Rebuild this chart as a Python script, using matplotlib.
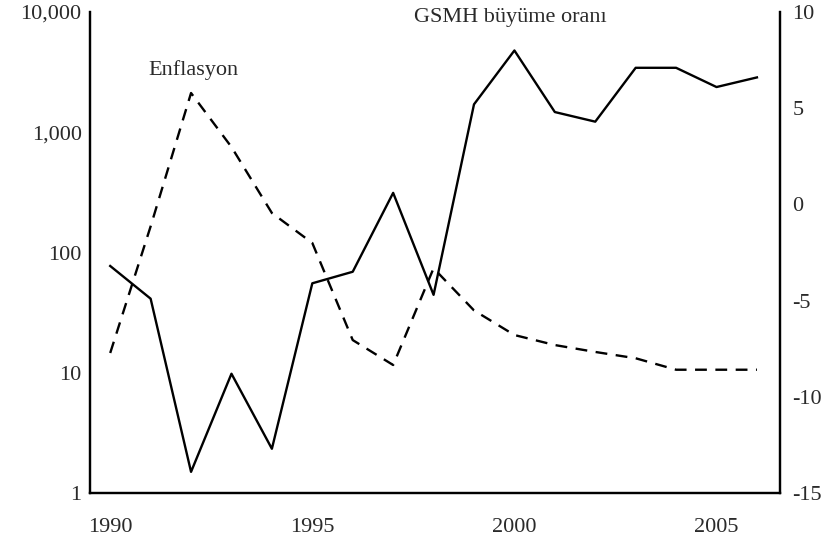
import matplotlib
matplotlib.use("Agg")
from matplotlib import pyplot as plt
from matplotlib.ticker import FuncFormatter, NullLocator

plt.rcParams['font.family'] = ['Liberation Serif', 'DejaVu Serif']
plt.rcParams['axes.unicode_minus'] = False

years = list(range(1990, 2007))
# inflation (%), log scale on the left axis
inflation = [14.6, 165, 2120, 754, 213, 120, 18.7, 11.6, 74, 33, 20.6, 17, 14.9, 13.2, 10.6, 10.6, 10.6]
# GSMH growth rate (%), right axis
growth = [-3.2, -4.9, -13.9, -8.8, -12.7, -4.1, -3.5, 0.6, -4.7, 5.2, 8.0, 4.8, 4.3, 7.1, 7.1, 6.1, 6.6]

left_ticks = [1, 10, 100, 1000, 10000]
right_ticks = [-15, -10, -5, 0, 5, 10]
x_ticks = [1990, 1995, 2000, 2005]

txt = '#2a2a2a'
fs = 16

fig = plt.figure(figsize=(8.31, 5.38), dpi=100)
ax = fig.add_axes([0.1083, 0.0836, 0.8303, 0.8941])
ax2 = ax.twinx()

ax.plot(years, inflation, color='black', lw=1.7, linestyle=(0, (5, 3.6)))
ax.set_yscale('log')
ax.set_ylim(1, 10000)
ax.set_yticks(left_ticks)
ax.yaxis.set_major_formatter(FuncFormatter(lambda v, p: '{:,.0f}'.format(v)))
ax.yaxis.set_minor_locator(NullLocator())
ax.set_xlim(1989.5, 2006.57)
ax.set_xticks(x_ticks)

ax2.plot(years, growth, color='black', lw=1.7)
ax2.set_ylim(-15, 10)
ax2.set_yticks(right_ticks)

for a in (ax, ax2):
    a.spines['top'].set_visible(False)
    for s in ('left', 'right', 'bottom'):
        a.spines[s].set_linewidth(1.6)
        a.spines[s].set_color('black')
    a.tick_params(length=0, labelsize=fs, colors=txt)

ax.tick_params(axis='y', pad=6)
ax.tick_params(axis='x', pad=18)
ax2.tick_params(axis='y', pad=9)

ax.text(1992.05, 3300, 'Enflasyon', fontsize=fs, color=txt, ha='center', va='center')
ax2.text(1999.9, 9.7, 'GSMH büyüme oranı', fontsize=fs, color=txt, ha='center', va='center')

fig.savefig('out.png', dpi=100)
